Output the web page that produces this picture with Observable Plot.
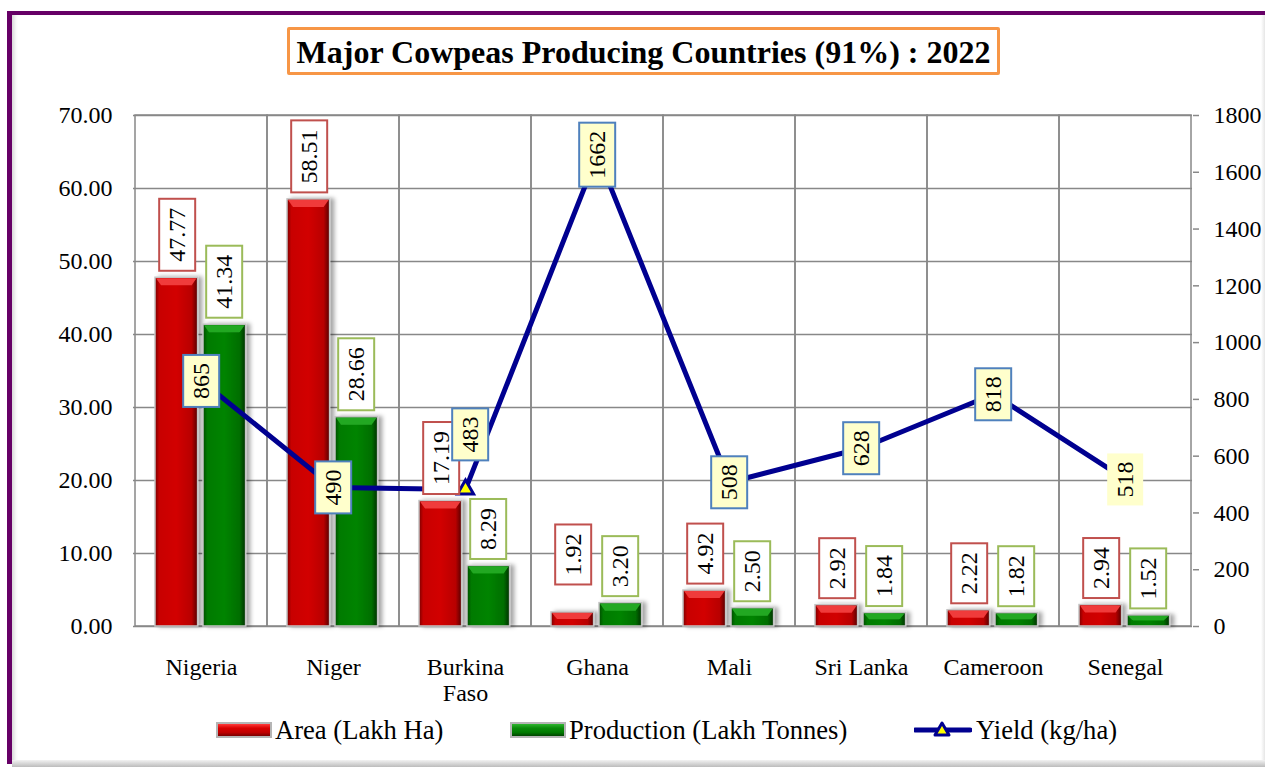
<!DOCTYPE html>
<html>
<head>
<meta charset="utf-8">
<script src="https://cdn.jsdelivr.net/npm/d3@7"></script>
<script src="https://cdn.jsdelivr.net/npm/@observablehq/plot@0.6"></script>
<style>
  body { margin: 0; background: #fff; font-family: "Liberation Serif", "Times New Roman", serif; }
  #wrap { position: relative; width: 1265px; height: 767px; overflow: hidden; background: #fff; }
  #frame { position: absolute; left: 7px; top: 11px; width: 1300px; height: 749px;
           border-left: 5px solid #660066; border-top: 4px solid #660066;
           box-shadow: inset 5px 0 4px -3px rgba(0,0,0,0.18); }
  #bottomshade { position: absolute; left: 12px; top: 760px; width: 1265px; height: 7px;
           background: linear-gradient(#f2f2f2, #bcbcbc); }
  #rightshade { position: absolute; left: 1261px; top: 15px; width: 4px; height: 745px;
           background: linear-gradient(to right, #ffffff, #e6e6e6); }
  #title { position: absolute; left: 287px; top: 27px; width: 707px; height: 42px;
           border: 3px solid #f79646; border-radius: 2px; background: #fff;
           font-weight: bold; font-size: 32px; text-align: center; line-height: 44px; color: #000; }
  #chart { position: absolute; left: 0; top: 95px; }
  .li { position: absolute; top: 714px; height: 32px; display: flex; align-items: center;
        font-size: 26.6px; color: #000; white-space: nowrap; }
  .sw { display: inline-block; width: 52px; height: 12px; border: 2px solid #b5b5b5; margin-right: 3px; }
  .sw.red { background: linear-gradient(#ff3b3b 0%, #d80000 35%, #c00000 70%, #7a0000 100%); }
  .sw.green { background: linear-gradient(#2fb52f 0%, #0a8a0a 35%, #007a00 70%, #004400 100%); }
</style>
</head>
<body>
<div id="wrap">
  <div id="frame"></div>
  <div id="rightshade"></div>
  <div id="bottomshade"></div>
  <div id="title"></div>
  <div id="chart"></div>
  <div class="li" style="left:216px"><span class="sw red"></span><span id="lg0"></span></div>
  <div class="li" style="left:510px"><span class="sw green"></span><span id="lg1"></span></div>
  <div class="li" style="left:914px">
    <svg width="58" height="22" style="margin-right:4px">
      <line x1="1" y1="11" x2="56" y2="11" stroke="#000090" stroke-width="5" stroke-linecap="round"/>
      <polygon points="28,4 35,16 21,16" fill="#ffff00" stroke="#000090" stroke-width="3" stroke-linejoin="round"/>
    </svg><span id="lg2"></span></div>
</div>
<script>
// ---------------- data ----------------
const chartTitle = "Major Cowpeas Producing Countries (91%) : 2022";
const countries = ["Nigeria", "Niger", "Burkina Faso", "Ghana", "Mali", "Sri Lanka", "Cameroon", "Senegal"];
const areaLakhHa = [47.77, 58.51, 17.19, 1.92, 4.92, 2.92, 2.22, 2.94];
const productionLakhTonnes = [41.34, 28.66, 8.29, 3.20, 2.50, 1.84, 1.82, 1.52];
const yieldKgHa = [865, 490, 483, 1662, 508, 628, 818, 518];
const seriesNames = ["Area (Lakh Ha)", "Production (Lakh Tonnes)", "Yield (kg/ha)"];
const leftTicks = [0, 10, 20, 30, 40, 50, 60, 70];
const rightTicks = [0, 200, 400, 600, 800, 1000, 1200, 1400, 1600, 1800];

// ---------------- build ----------------
const FONT = '"Liberation Serif", "Times New Roman", serif';
const NAVY = "#000090";
const GRID = "#888888";
const LEFT_MAX = leftTicks[leftTicks.length - 1];
const RIGHT_MAX = rightTicks[rightTicks.length - 1];
const toLeft = v => v * LEFT_MAX / RIGHT_MAX;
const fromLeft = v => v * RIGHT_MAX / LEFT_MAX;

document.getElementById("title").textContent = chartTitle;
seriesNames.forEach((s, i) => document.getElementById("lg" + i).textContent = s);

const rows = countries.map((c, i) => ({
  country: c, area: areaLakhHa[i], production: productionLakhTonnes[i], yield: yieldKgHa[i]
}));

const f2 = d3.format(".2f");
const lbl = {fontSize: 24, fontFamily: FONT, rotate: -90, fill: "#000", lineAnchor: "middle"};

const plot = Plot.plot({
  width: 1265, height: 620,
  marginTop: 20, marginBottom: 89, marginLeft: 133, marginRight: 73,
  style: {fontFamily: FONT, fontSize: "24px", background: "transparent", color: "#000", overflow: "visible"},
  x: {domain: countries, padding: 0, axis: null},
  y: {domain: [0, LEFT_MAX], axis: null},
  marks: [
    Plot.gridY(leftTicks, {stroke: GRID, strokeOpacity: 1, strokeWidth: 1.5}),
    Plot.barY(countries, {x: d => d, y1: 0, y2: LEFT_MAX, fill: "none", stroke: GRID, strokeWidth: 1.5}),
    Plot.axisX({tickSize: 0, tickPadding: 29, lineHeight: 1.12, fontSize: 24, fontFamily: FONT, label: null,
      tickFormat: d => d.length > 10 ? d.replace(" ", "\n") : d}),
    Plot.axisY(leftTicks, {anchor: "left", tickSize: 0, tickPadding: 21, fontSize: 24, fontFamily: FONT,
      tickFormat: f2, label: null}),
    Plot.axisY(rightTicks.map(toLeft), {anchor: "right", tickSize: 6, tickPadding: 15, fontSize: 24, fontFamily: FONT,
      stroke: GRID, strokeWidth: 1.5, label: null,
      tickFormat: d => String(Math.round(fromLeft(d)))}),
    // bars
    Plot.barY(rows, {x: "country", y: "area", insetLeft: 20, insetRight: 69.4,
      fill: "url(#gRed)", stroke: "#c4c4c4", strokeWidth: 1.5, ariaDescription: "area-bars"}),
    Plot.barY(rows, {x: "country", y: "production", insetLeft: 68, insetRight: 21.4,
      fill: "url(#gGreen)", stroke: "#c4c4c4", strokeWidth: 1.5, ariaDescription: "production-bars"}),
    // yield line (right axis)
    Plot.line(rows, {x: "country", y: d => toLeft(d.yield), stroke: NAVY, strokeWidth: 5}),
    Plot.dot(rows, {x: "country", y: d => toLeft(d.yield), symbol: "triangle", r: 6,
      fill: "#ffff00", stroke: NAVY, strokeWidth: 3}),
    // area labels
    Plot.text(rows, {x: "country", y: "area", text: d => f2(d.area), textAnchor: "start",
      dx: -24, dy: -16, filter: d => d.country !== "Ghana", ...lbl, ariaDescription: "area-labels"}),
    Plot.text(rows, {x: "country", y: "area", text: d => f2(d.area), textAnchor: "start",
      dx: -24, dy: -37, filter: d => d.country === "Ghana", ...lbl, ariaDescription: "area-labels"}),
    // production labels
    Plot.text(rows, {x: "country", y: "production", text: d => f2(d.production), textAnchor: "start",
      dx: 23, dy: -16, ...lbl, ariaDescription: "production-labels"}),
    // yield labels
    Plot.text(rows, {x: "country", y: d => toLeft(d.yield), text: d => String(d.yield), textAnchor: "middle",
      filter: d => d.country !== "Burkina Faso" && d.country !== "Senegal", ...lbl, ariaDescription: "yield-labels"}),
    Plot.text(rows, {x: "country", y: d => toLeft(d.yield), text: d => String(d.yield), textAnchor: "middle",
      dx: 5, dy: -55, filter: d => d.country === "Burkina Faso", ...lbl, ariaDescription: "yield-labels"}),
    Plot.text(rows, {x: "country", y: d => toLeft(d.yield), text: d => String(d.yield), textAnchor: "middle",
      filter: d => d.country === "Senegal", ...lbl, ariaDescription: "yield-labels-plain"})
  ]
});

document.getElementById("chart").appendChild(plot);

// gradients & shadow
const svgNS = "http://www.w3.org/2000/svg";
d3.select(plot).insert("defs", ":first-child").html(`
  <linearGradient id="gRed" x1="0" x2="1" y1="0" y2="0">
    <stop offset="0" stop-color="#7a0000"/>
    <stop offset="0.1" stop-color="#c80000"/>
    <stop offset="0.5" stop-color="#d20000"/>
    <stop offset="0.86" stop-color="#b80000"/>
    <stop offset="1" stop-color="#560000"/>
  </linearGradient>
  <linearGradient id="gGreen" x1="0" x2="1" y1="0" y2="0">
    <stop offset="0" stop-color="#004a00"/>
    <stop offset="0.1" stop-color="#007a00"/>
    <stop offset="0.5" stop-color="#008400"/>
    <stop offset="0.86" stop-color="#006e00"/>
    <stop offset="1" stop-color="#003000"/>
  </linearGradient>
  <filter id="barShadow" x="-30%" y="-5%" width="170%" height="110%">
    <feDropShadow dx="4" dy="0" stdDeviation="2" flood-color="#000" flood-opacity="0.35"/>
  </filter>`);

function groupsOf(desc) {
  return Array.from(plot.querySelectorAll(`g[aria-description="${desc}"]`));
}

// bevel caps on bars
[["area-bars", "#f03a3a"], ["production-bars", "#23a823"]].forEach(([name, cap]) => {
  groupsOf(name).forEach(g => {
    g.setAttribute("filter", "url(#barShadow)");
    g.querySelectorAll("rect").forEach(r => {
      const x = +r.getAttribute("x"), y = +r.getAttribute("y");
      const w = +r.getAttribute("width"), h = +r.getAttribute("height");
      const c = Math.min(8, h / 2);
      const p = document.createElementNS(svgNS, "polygon");
      p.setAttribute("points", `${x + 1},${y + 1} ${x + w - 1},${y + 1} ${x + w - 6},${y + c} ${x + 6},${y + c}`);
      p.setAttribute("fill", cap);
      p.setAttribute("stroke", "none");
      r.after(p);
    });
  });
});

// label boxes
function boxLabels(name, fill, stroke, padAlong, padAcross) {
  groupsOf(name).forEach(g => g.querySelectorAll("text").forEach(t => {
    const b = t.getBBox();
    const r = document.createElementNS(svgNS, "rect");
    r.setAttribute("x", b.x - padAlong);
    r.setAttribute("y", b.y - padAcross);
    r.setAttribute("width", b.width + 2 * padAlong);
    r.setAttribute("height", b.height + 2 * padAcross);
    const tr = t.getAttribute("transform");
    if (tr) r.setAttribute("transform", tr);
    r.setAttribute("fill", fill);
    r.setAttribute("stroke", stroke);
    r.setAttribute("stroke-width", 2);
    t.parentNode.insertBefore(r, t);
  }));
}
boxLabels("area-labels", "#ffffff", "#c0504d", 9, 5);
boxLabels("production-labels", "#ffffff", "#9bbb59", 9, 5);
boxLabels("yield-labels", "#ffffcc", "#4f81bd", 8, 5);
boxLabels("yield-labels-plain", "#ffffcc", "none", 8, 5);
</script>
</body>
</html>
